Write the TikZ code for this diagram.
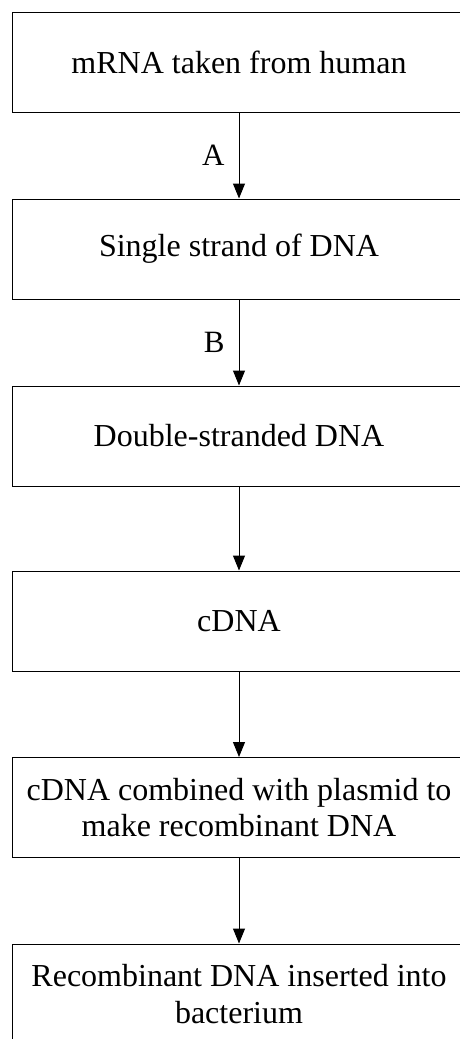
\documentclass[tikz,border=0pt]{standalone}
\usepackage{fontspec}
\setmainfont{Liberation Serif}
\usetikzlibrary{arrows.meta}
\begin{document}
\begin{tikzpicture}[x=1pt,y=-1pt,
  stepbox/.style={draw=black,line width=1pt,minimum width=454pt,minimum height=100pt,inner sep=0pt,align=center,font=\fontsize{32}{36.7}\selectfont},
  flow/.style={draw=black,line width=1pt,-{Triangle[length=15pt,width=12pt]}},
  lbl/.style={font=\fontsize{31}{32}\selectfont,inner sep=0pt}]
\useasboundingbox (0,0) rectangle (459,1039);
\node[stepbox] (n1) at (239,62.5) {mRNA taken from human};
\node[stepbox] (n2) at (239,249) {Single strand of DNA};
\node[stepbox] (n3) at (239,436) {Double-stranded DNA};
\node[stepbox] (n4) at (239,621) {cDNA};
\node[stepbox] (n5) at (239,807.5) {cDNA combined with plasmid to\\make recombinant DNA};
\node[stepbox] (n6) at (239,994) {Recombinant DNA inserted into\\bacterium};
\draw[flow] (n1) -- (n2) node[midway,left=14pt,lbl] (la) {A};
\draw[flow] (n2) -- (n3) node[midway,left=14pt,lbl] (lb) {B};
\draw[flow] (n3) -- (n4);
\draw[flow] (n4) -- (n5);
\draw[flow] (n5) -- (n6);
\end{tikzpicture}
\end{document}
